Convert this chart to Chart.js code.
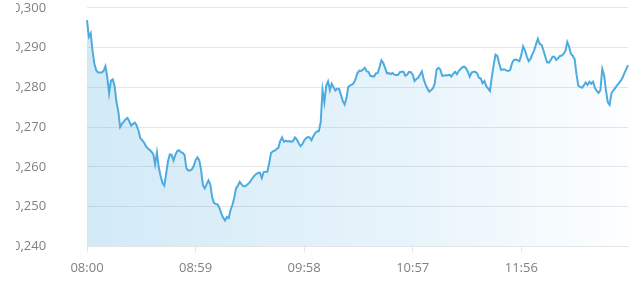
<!DOCTYPE html>
<html>
<head>
<meta charset="utf-8">
<script src="https://cdn.jsdelivr.net/npm/chart.js@4/dist/chart.umd.min.js"></script>
<style>
  html, body { margin: 0; padding: 0; background: #fff; overflow: hidden; }
  #wrap { position: absolute; left: 16px; top: 0; width: 624px; height: 287px; overflow: hidden; }
  #box { position: relative; width: 640px; height: 287px; margin-left: -16px; }
</style>
</head>
<body>
<div id="wrap"><div id="box"><canvas id="myChart"></canvas></div></div>
<script>
//Start time and number of minutes in the session
var startHour = 8;
var minuteCount = 295;

//Price per minute
var priceData = [
  0.2969, 0.2927, 0.2936, 0.2892, 0.2859, 0.2843, 0.2837, 0.2837, 0.2837, 0.2841,
  0.2853, 0.2826, 0.2785, 0.2817, 0.2820, 0.2803, 0.2763, 0.2740, 0.2700, 0.2708,
  0.2714, 0.2720, 0.2723, 0.2714, 0.2704, 0.2708, 0.2711, 0.2704, 0.2691, 0.2672,
  0.2667, 0.2661, 0.2652, 0.2647, 0.2643, 0.2638, 0.2632, 0.2606, 0.2636, 0.2599,
  0.2577, 0.2560, 0.2553, 0.2582, 0.2614, 0.2631, 0.2630, 0.2616, 0.2630, 0.2640,
  0.2642, 0.2637, 0.2635, 0.2630, 0.2597, 0.2591, 0.2591, 0.2594, 0.2602, 0.2617,
  0.2624, 0.2617, 0.2592, 0.2554, 0.2546, 0.2556, 0.2566, 0.2556, 0.2524, 0.2509,
  0.2507, 0.2505, 0.2496, 0.2483, 0.2472, 0.2465, 0.2474, 0.2471, 0.2491, 0.2504,
  0.2522, 0.2546, 0.2553, 0.2562, 0.2556, 0.2551, 0.2551, 0.2555, 0.2559, 0.2565,
  0.2572, 0.2578, 0.2582, 0.2585, 0.2585, 0.2572, 0.2587, 0.2588, 0.2588, 0.2609,
  0.2635, 0.2639, 0.2641, 0.2645, 0.2648, 0.2665, 0.2674, 0.2663, 0.2666, 0.2664,
  0.2665, 0.2663, 0.2665, 0.2674, 0.2669, 0.2660, 0.2652, 0.2657, 0.2666, 0.2672,
  0.2675, 0.2674, 0.2667, 0.2677, 0.2685, 0.2689, 0.2690, 0.2712, 0.2793, 0.2762,
  0.2804, 0.2815, 0.2793, 0.2809, 0.2800, 0.2792, 0.2797, 0.2796, 0.2781, 0.2766,
  0.2757, 0.2773, 0.2801, 0.2805, 0.2807, 0.2811, 0.2822, 0.2836, 0.2842, 0.2841,
  0.2845, 0.2849, 0.2840, 0.2839, 0.2829, 0.2828, 0.2827, 0.2835, 0.2836, 0.2851,
  0.2868, 0.2861, 0.2849, 0.2835, 0.2836, 0.2833, 0.2836, 0.2832, 0.2831, 0.2831,
  0.2838, 0.2839, 0.2839, 0.2829, 0.2832, 0.2839, 0.2838, 0.2832, 0.2816, 0.2821,
  0.2824, 0.2832, 0.2840, 0.2820, 0.2807, 0.2797, 0.2789, 0.2793, 0.2797, 0.2811,
  0.2845, 0.2849, 0.2845, 0.2829, 0.2829, 0.2831, 0.2830, 0.2832, 0.2827, 0.2834,
  0.2839, 0.2833, 0.2841, 0.2846, 0.2851, 0.2852, 0.2848, 0.2839, 0.2827, 0.2837,
  0.2839, 0.2839, 0.2835, 0.2824, 0.2822, 0.2810, 0.2816, 0.2803, 0.2797, 0.2791,
  0.2827, 0.2856, 0.2882, 0.2879, 0.2860, 0.2844, 0.2845, 0.2845, 0.2842, 0.2841,
  0.2844, 0.2861, 0.2869, 0.2870, 0.2868, 0.2866, 0.2881, 0.2903, 0.2893, 0.2878,
  0.2866, 0.2871, 0.2883, 0.2893, 0.2908, 0.2922, 0.2909, 0.2907, 0.2894, 0.2878,
  0.2863, 0.2862, 0.2869, 0.2877, 0.2877, 0.2869, 0.2873, 0.2879, 0.2880, 0.2884,
  0.2892, 0.2914, 0.2902, 0.2884, 0.2879, 0.2871, 0.2833, 0.2804, 0.2801, 0.2799,
  0.2805, 0.2812, 0.2806, 0.2814, 0.2809, 0.2814, 0.2799, 0.2791, 0.2786, 0.2793,
  0.2846, 0.2831, 0.2793, 0.2763, 0.2756, 0.2785, 0.2792, 0.2798, 0.2805, 0.2810,
  0.2816, 0.2824, 0.2835, 0.2845, 0.2856
];

//Y axis range
var yMin = 0.24;
var yMax = 0.30;
var yStep = 0.01;

//Build the HH:MM labels, one per minute
var timeLabels = [];
for (var m = 0; m < minuteCount; m++) {
    var h = startHour + Math.floor(m / 60);
    var mm = m % 60;
    timeLabels.push(String(h).padStart(2, '0') + ':' + String(mm).padStart(2, '0'));
}

var lineCol = '#4dabdf';
var gridCol = '#e6e6e6';
var tickCol = '#808080';

//Fill fades from light blue on the left to white on the right
function areaFill(context) {
    var area = context.chart.chartArea;
    if (!area) return 'rgba(77,171,223,0.2)';
    var g = context.chart.ctx.createLinearGradient(area.left, 0, area.right, 0);
    g.addColorStop(0, 'rgba(77,171,223,0.25)');
    g.addColorStop(0.6, 'rgba(77,171,223,0.13)');
    g.addColorStop(1, 'rgba(77,171,223,0.01)');
    return g;
}

Chart.defaults.font.family = '"Open Sans", sans-serif';
Chart.defaults.font.size = 13;
Chart.defaults.color = tickCol;

var config = {
    type: 'line',
    data: {
        labels: timeLabels,
        datasets: [{
            data: priceData,
            borderColor: lineCol,
            borderWidth: 2,
            backgroundColor: areaFill,
            fill: 'start',
            pointRadius: 0,
            tension: 0
        }]
    },
    options: {
        animation: false,
        responsive: true,
        maintainAspectRatio: false,
        layout: { padding: { left: 13, right: 12, top: 0, bottom: 3 } },
        plugins: {
            legend: { display: false },
            tooltip: { enabled: false }
        },
        scales: {
            x: {
                grid: {
                    drawOnChartArea: false,
                    drawTicks: true,
                    tickLength: 6,
                    color: gridCol
                },
                border: { display: true, color: gridCol },
                ticks: {
                    maxRotation: 0,
                    minRotation: 0,
                    autoSkip: true,
                    maxTicksLimit: 5,
                    padding: 8,
                    color: tickCol
                }
            },
            y: {
                min: yMin,
                max: yMax,
                grid: { color: gridCol, drawTicks: false },
                border: { display: false },
                //Labels sit at the far left, plot starts at x=87
                afterFit: function(scale) { scale.width = 74; },
                ticks: {
                    stepSize: yStep,
                    padding: 0,
                    crossAlign: 'far',
                    color: tickCol,
                    callback: function(v) { return v.toFixed(3).replace('.', ','); }
                }
            }
        }
    }
};

var canvas = document.getElementById('myChart').getContext('2d');
var myChart = new Chart(canvas, config);
</script>
</body>
</html>
